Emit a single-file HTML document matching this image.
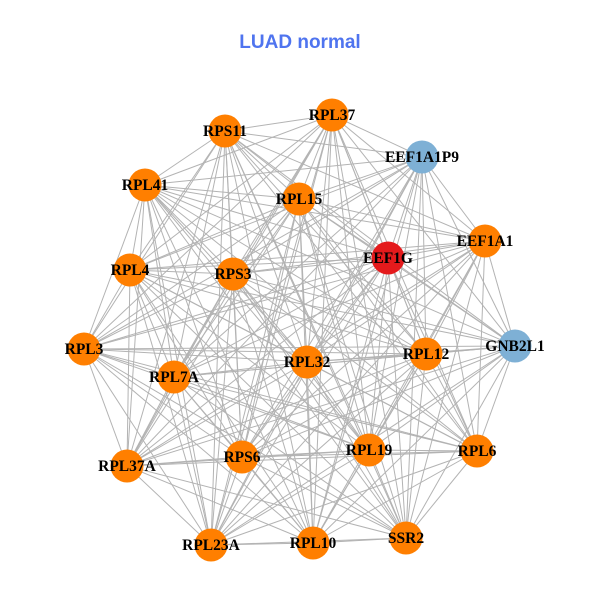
<!DOCTYPE html>
<html><head><meta charset="utf-8"><style>
html,body{margin:0;padding:0;background:#fff;}
svg{display:block;}
.t{font-family:"Liberation Sans",sans-serif;font-weight:bold;font-size:19px;fill:#4f74ef;}
.l{font-family:"Liberation Serif",serif;font-weight:bold;font-size:15.5px;fill:#000;}
</style></head><body>
<svg id="s" width="600" height="600" xmlns="http://www.w3.org/2000/svg">
<rect width="600" height="600" fill="#fff"/>
<text class="t" x="300" y="48" text-anchor="middle">LUAD normal</text>
<g id="e" stroke="#b3b3b3" stroke-width="1"></g>
<g id="n"></g>
<g id="lb"></g>
</svg>
<script>
var N=[["RPL37",332,115,"#ff7f00"],["RPS11",225,131,"#ff7f00"],["EEF1A1P9",422,157,"#7eb0d5"],["RPL41",145,185,"#ff7f00"],["RPL15",299,199,"#ff7f00"],["EEF1A1",485,241,"#ff7f00"],["EEF1G",388,258,"#e41a1c"],["RPL4",130,270,"#ff7f00"],["RPS3",233,274,"#ff7f00"],["RPL3",84,349,"#ff7f00"],["GNB2L1",515,346,"#7eb0d5"],["RPL32",307,362,"#ff7f00"],["RPL12",426,354,"#ff7f00"],["RPL7A",174,377,"#ff7f00"],["RPL6",477,451,"#ff7f00"],["RPS6",242,457,"#ff7f00"],["RPL19",369,450,"#ff7f00"],["RPL37A",127,466,"#ff7f00"],["SSR2",406,538,"#ff7f00"],["RPL23A",211,545,"#ff7f00"],["RPL10",313,543,"#ff7f00"]];
var ns="http://www.w3.org/2000/svg",e=document.getElementById("e"),n=document.getElementById("n"),lb=document.getElementById("lb");
for(var i=0;i<N.length;i++)for(var j=i+1;j<N.length;j++){var l=document.createElementNS(ns,"line");l.setAttribute("x1",N[i][1]);l.setAttribute("y1",N[i][2]);l.setAttribute("x2",N[j][1]);l.setAttribute("y2",N[j][2]);e.appendChild(l);}
N.forEach(function(d){var c=document.createElementNS(ns,"circle");c.setAttribute("cx",d[1]);c.setAttribute("cy",d[2]);c.setAttribute("r",16.5);c.setAttribute("fill",d[3]);n.appendChild(c);
var t=document.createElementNS(ns,"text");t.setAttribute("class","l");t.setAttribute("x",d[1]);t.setAttribute("y",d[2]+5);t.setAttribute("text-anchor","middle");t.textContent=d[0];lb.appendChild(t);});
</script>
</body></html>
